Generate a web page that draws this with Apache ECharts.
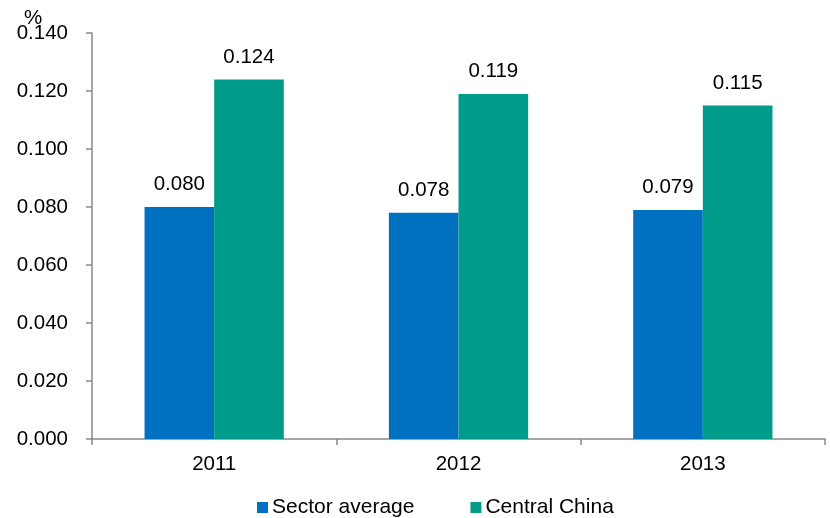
<!DOCTYPE html>
<html><head><meta charset="utf-8">
<script src="https://cdn.jsdelivr.net/npm/echarts@6/dist/echarts.min.js"></script>
<style>html,body{margin:0;padding:0;background:#fff}#c{width:830px;height:518px}</style>
</head><body><div id="c"></div>
<script>
const categories = ['2011', '2012', '2013'];
const sectorAverage = [0.080, 0.078, 0.079];
const centralChina = [0.124, 0.119, 0.115];
const seriesNames = ['Sector average', 'Central China'];

const chart = echarts.init(document.getElementById('c'), null, {renderer: 'canvas'});
const font = '"Liberation Sans", Arial, sans-serif';
const fs = 20.5;
const lbl = {show: true, position: 'top', distance: 12, color: '#000', fontSize: fs, fontFamily: font, formatter: p => p.value.toFixed(3)};
chart.setOption({
  animation: false,
  grid: {left: 92, right: 5, top: 33, bottom: 79, containLabel: false},
  graphic: [{type: 'text', left: 24, top: 8, style: {text: '%', fontSize: fs, fontFamily: font, fill: '#000'}}],
  legend: {
    top: 492, left: 252, itemWidth: 11, itemHeight: 11, itemGap: 56,
    icon: 'rect',
    textStyle: {fontSize: 21, fontFamily: font, color: '#000', padding: [0, 0, 0, -1]},
    data: seriesNames
  },
  xAxis: {
    type: 'category', data: categories,
    axisLine: {lineStyle: {color: '#888', width: 1.5}},
    axisTick: {show: true, length: 6, lineStyle: {color: '#888', width: 1.5}},
    axisLabel: {fontSize: fs, fontFamily: font, color: '#000', margin: 15}
  },
  yAxis: {
    type: 'value', min: 0, max: 0.14, interval: 0.02,
    axisLine: {show: true, lineStyle: {color: '#888', width: 1.5}},
    axisTick: {show: true, length: 6, lineStyle: {color: '#888', width: 1.5}},
    splitLine: {show: false},
    axisLabel: {fontSize: fs, fontFamily: font, color: '#000', margin: 24, formatter: v => v.toFixed(3)}
  },
  series: [
    {name: seriesNames[0], type: 'bar', data: sectorAverage, itemStyle: {color: '#0070C0'}, barGap: '0%', barCategoryGap: '43%', label: lbl},
    {name: seriesNames[1], type: 'bar', data: centralChina, itemStyle: {color: '#009B8A'}, label: lbl}
  ]
});
</script></body></html>
